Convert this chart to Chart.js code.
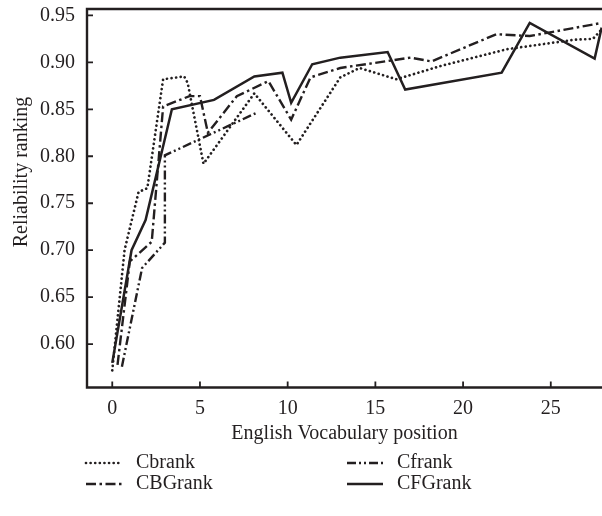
<!DOCTYPE html>
<html>
<head>
<meta charset="utf-8">
<script src="https://cdn.jsdelivr.net/npm/chart.js@4.4.0/dist/chart.umd.min.js"></script>
<style>
  html, body { margin: 0; padding: 0; background: #fff; }
  #wrap { width: 602px; height: 516px; position: relative; }
</style>
</head>
<body>
<div id="wrap"><canvas id="rankChart"></canvas></div>
<script>
// values
const cbrankX = [0, 0.7, 1.5, 2.0, 2.9, 4.1, 4.3, 5.2, 8.1, 10.5, 13.0, 14.1, 16.2, 18.7, 22.5, 26.3, 27.4, 27.9];
const cbrankY = [0.572, 0.700, 0.762, 0.766, 0.882, 0.885, 0.878, 0.792, 0.867, 0.812, 0.884, 0.894, 0.882, 0.896, 0.914, 0.924, 0.925, 0.935];

const cfrankX = [0.55, 1.7, 3.0, 3.0, 8.2];
const cfrankY = [0.576, 0.681, 0.708, 0.801, 0.846];

const cbgrankX = [0.3, 1.0, 2.25, 2.9, 4.4, 5.0, 5.45, 7.1, 8.9, 10.2, 11.3, 13.0, 17.0, 18.2, 21.9, 23.8, 27.9];
const cbgrankY = [0.578, 0.688, 0.709, 0.853, 0.864, 0.864, 0.825, 0.864, 0.880, 0.839, 0.884, 0.894, 0.905, 0.901, 0.930, 0.928, 0.942];

const cfgrankX = [0, 1.1, 1.9, 3.4, 5.8, 8.1, 9.7, 10.2, 11.4, 13.0, 15.7, 16.7, 22.2, 23.8, 27.5, 27.9];
const cfgrankY = [0.580, 0.700, 0.732, 0.850, 0.860, 0.885, 0.889, 0.857, 0.898, 0.905, 0.911, 0.871, 0.889, 0.942, 0.904, 0.937];

const seriesNames = ['Cbrank', 'Cfrank', 'CBGrank', 'CFGrank'];
const xTicks = [0, 5, 10, 15, 20, 25];
const yTicks = [0.60, 0.65, 0.70, 0.75, 0.80, 0.85, 0.90, 0.95];
const yTitle = 'Reliability ranking';

const ink = '#231f20';
const serif = "'Liberation Serif', 'DejaVu Serif', serif";

function pts(xs, ys) {
    return xs.map((v, i) => ({ x: v, y: ys[i] }));
}

// box on left/top/bottom + ticks pointing inward
const frameTicks = {
    id: 'frameTicks',
    afterDatasetsDraw(chart) {
        const { ctx, chartArea: a, scales: { x, y } } = chart;
        ctx.save();
        ctx.strokeStyle = ink;
        ctx.lineWidth = 2.4;
        ctx.beginPath();
        ctx.moveTo(a.right + 2, a.top);
        ctx.lineTo(a.left, a.top);
        ctx.lineTo(a.left, a.bottom);
        ctx.lineTo(a.right + 2, a.bottom);
        ctx.stroke();
        ctx.lineWidth = 1.8;
        ctx.beginPath();
        x.ticks.forEach(t => {
            const px = x.getPixelForValue(t.value);
            ctx.moveTo(px, a.bottom);
            ctx.lineTo(px, a.bottom - 6);
        });
        y.ticks.forEach(t => {
            const py = y.getPixelForValue(t.value);
            ctx.moveTo(a.left, py);
            ctx.lineTo(a.left + 6, py);
        });
        ctx.stroke();
        ctx.restore();
    }
};

// y title sits a bit above the middle of the axis in the original
const sideTitle = {
    id: 'sideTitle',
    afterDraw(chart) {
        const ctx = chart.ctx;
        ctx.save();
        ctx.translate(22, 172);
        ctx.rotate(-Math.PI / 2);
        ctx.font = '20px ' + serif;
        ctx.fillStyle = ink;
        ctx.textAlign = 'center';
        ctx.textBaseline = 'middle';
        ctx.fillText(yTitle, 0, 0);
        ctx.restore();
    }
};

// 2 x 2 legend under the axis title
const gridLegend = {
    id: 'gridLegend',
    afterDraw(chart) {
        const ctx = chart.ctx;
        const cols = [86, 347];
        const rows = [463, 484];
        ctx.save();
        ctx.font = '20px ' + serif;
        ctx.fillStyle = ink;
        ctx.textBaseline = 'middle';
        chart.data.datasets.forEach((ds, i) => {
            const lx = cols[i % 2];
            const ly = rows[Math.floor(i / 2)];
            ctx.strokeStyle = ink;
            ctx.lineWidth = ds.borderWidth;
            ctx.lineCap = ds.borderCapStyle || 'butt';
            ctx.setLineDash(ds.borderDash || []);
            ctx.beginPath();
            ctx.moveTo(lx, ly);
            ctx.lineTo(lx + 36, ly);
            ctx.stroke();
            ctx.setLineDash([]);
            ctx.fillText(ds.label, lx + 50, ly);
        });
        ctx.restore();
    }
};

const ctxRank = document.getElementById('rankChart').getContext('2d');
new Chart(ctxRank, {
    type: 'line',
    data: {
        datasets: [{
            label: seriesNames[0],
            data: pts(cbrankX, cbrankY),
            borderColor: ink,
            borderWidth: 2.7,
            borderDash: [0.01, 4.6],
            borderCapStyle: 'round'
        }, {
            label: seriesNames[1],
            data: pts(cfrankX, cfrankY),
            borderColor: ink,
            borderWidth: 2.4,
            borderDash: [9, 3, 2, 3, 2, 3]
        }, {
            label: seriesNames[2],
            data: pts(cbgrankX, cbgrankY),
            borderColor: ink,
            borderWidth: 2.4,
            borderDash: [10, 3.5, 2.5, 3.5]
        }, {
            label: seriesNames[3],
            data: pts(cfgrankX, cfgrankY),
            borderColor: ink,
            borderWidth: 2.5
        }]
    },
    options: {
        responsive: true,
        maintainAspectRatio: false,
        animation: false,
        layout: { padding: { top: 9, right: 0, bottom: 70, left: 0 } },
        elements: { point: { radius: 0 }, line: { tension: 0 } },
        plugins: {
            legend: { display: false },
            tooltip: { enabled: false }
        },
        scales: {
            x: {
                type: 'linear',
                min: -1.44,
                max: 27.92,
                grid: { display: false, drawTicks: false },
                border: { display: false },
                afterBuildTicks: axis => { axis.ticks = xTicks.map(v => ({ value: v })); },
                afterFit: scale => {
                    scale.height = 58.5;
                    scale.paddingLeft = 0;
                    scale.paddingRight = 0;
                },
                ticks: {
                    color: ink,
                    padding: 9,
                    maxRotation: 0,
                    font: { family: serif, size: 20 }
                },
                title: {
                    display: true,
                    text: 'English Vocabulary position',
                    color: ink,
                    padding: { top: 0, bottom: 0 },
                    font: { family: serif, size: 20 }
                }
            },
            y: {
                type: 'linear',
                min: 0.5538,
                max: 0.9568,
                grid: { display: false, drawTicks: false },
                border: { display: false },
                afterBuildTicks: axis => { axis.ticks = yTicks.map(v => ({ value: v })); },
                afterFit: scale => {
                    scale.width = 87;
                    scale.paddingTop = 0;
                    scale.paddingBottom = 0;
                },
                ticks: {
                    color: ink,
                    padding: 12,
                    font: { family: serif, size: 20 },
                    callback: v => v.toFixed(2)
                }
            }
        }
    },
    plugins: [frameTicks, sideTitle, gridLegend]
});
</script>
</body>
</html>
